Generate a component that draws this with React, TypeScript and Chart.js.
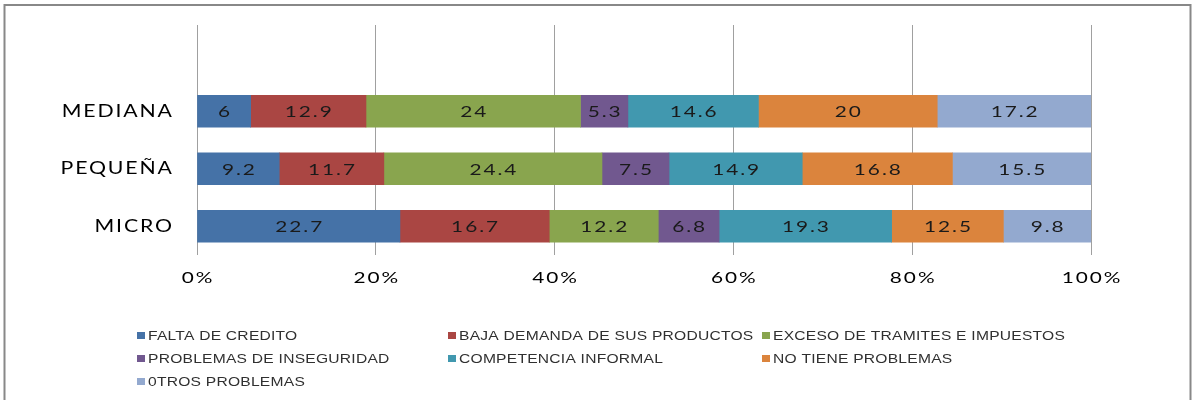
import React, { useEffect, useRef } from "react";
import { Chart, registerables } from "chart.js";

Chart.register(...registerables);

const categories = ["MEDIANA", "PEQUEÑA", "MICRO"];
const seriesNames = [
  "FALTA DE CREDITO",
  "BAJA DEMANDA DE SUS PRODUCTOS",
  "EXCESO DE TRAMITES E IMPUESTOS",
  "PROBLEMAS DE INSEGURIDAD",
  "COMPETENCIA INFORMAL",
  "NO TIENE PROBLEMAS",
  "0TROS PROBLEMAS",
];
const faltaCredito = [6, 9.2, 22.7];
const bajaDemanda = [12.9, 11.7, 16.7];
const excesoTramites = [24, 24.4, 12.2];
const inseguridad = [5.3, 7.5, 6.8];
const competencia = [14.6, 14.9, 19.3];
const noTiene = [20, 16.8, 12.5];
const otros = [17.2, 15.5, 9.8];
const xTicks = [0, 20, 40, 60, 80, 100];

const seriesValues = [faltaCredito, bajaDemanda, excesoTramites, inseguridad, competencia, noTiene, otros];
const colors = ["#4572A7", "#AA4643", "#89A54E", "#71588F", "#4198AF", "#DB843D", "#93A9CF"];

function drawStretched(
  ctx: CanvasRenderingContext2D,
  text: string,
  x: number,
  y: number,
  sx: number,
  ls: number,
  align: "left" | "center" | "right"
) {
  ctx.save();
  ctx.translate(x, y);
  ctx.scale(sx, 1);
  (ctx as any).letterSpacing = ls + "px";
  ctx.textAlign = align;
  ctx.textBaseline = "middle";
  let off = 0;
  if (align === "center") off = ls / 2;
  if (align === "right") off = ls;
  ctx.fillText(text, off, 0);
  ctx.restore();
}

const frameAndLabels = {
  id: "frameAndLabels",
  beforeDraw(chart: any) {
    const ctx = chart.ctx;
    ctx.save();
    ctx.fillStyle = "#ffffff";
    ctx.fillRect(0, 0, chart.width, chart.height);
    ctx.strokeStyle = "#888888";
    ctx.lineWidth = 2;
    ctx.strokeRect(4.5, 5, 1186, 420);
    ctx.restore();
  },
  afterDatasetsDraw(chart: any) {
    const ctx = chart.ctx;
    ctx.save();
    // data labels
    ctx.font = "16px Lato";
    ctx.fillStyle = "#1a1a1a";
    chart.data.datasets.forEach((ds: any, di: number) => {
      const meta = chart.getDatasetMeta(di);
      meta.data.forEach((el: any, i: number) => {
        const v = ds.data[i];
        if (v === null || v === undefined) return;
        const cx = (el.x + el.base) / 2;
        drawStretched(ctx, String(v), cx, el.y + 1, 1.3, 1.5, "center");
      });
    });
    // x tick labels
    const xs = chart.scales.x;
    ctx.font = "16px Lato";
    ctx.fillStyle = "#000000";
    xs.ticks.forEach((t: any) => {
      drawStretched(ctx, t.value + "%", xs.getPixelForValue(t.value), 278, 1.3, 1.5, "center");
    });
    // y tick labels
    const ys = chart.scales.y;
    ctx.font = "17px Lato";
    chart.data.labels.forEach((lab: string, i: number) => {
      if (!lab) return;
      drawStretched(ctx, lab, 172, ys.getPixelForValue(i), 1.25, 1.5, "right");
    });
    ctx.restore();
  },
  afterDraw(chart: any) {
    const ctx = chart.ctx;
    ctx.save();
    ctx.font = "13px 'Liberation Sans'";
    const colX = [137, 448, 762];
    const rowY = [335, 358, 381];
    chart.data.datasets.forEach((ds: any, i: number) => {
      const x = colX[i % 3];
      const y = rowY[Math.floor(i / 3)];
      ctx.fillStyle = ds.backgroundColor;
      ctx.fillRect(x, y - 3, 8, 7);
      ctx.fillStyle = "#303030";
      drawStretched(ctx, ds.label, x + 11, y + 1, 1.2, 0.2, "left");
    });
    ctx.restore();
  },
};

export default function App() {
  const ref = useRef<HTMLCanvasElement | null>(null);
  useEffect(() => {
    if (!ref.current) return;
    const chart = new Chart(ref.current, {
      type: "bar",
      data: {
        labels: ["", ...categories],
        datasets: seriesValues.map((vals, i) => ({
          label: seriesNames[i],
          data: [null, ...vals],
          backgroundColor: colors[i],
          borderWidth: 0,
          barThickness: 32,
        })),
      },
      options: {
        indexAxis: "y",
        animation: false,
        responsive: false,
        layout: { padding: { top: 25, right: 103, left: 0, bottom: 0 } },
        plugins: {
          legend: { display: false },
          tooltip: { enabled: false },
          title: { display: false },
        },
        scales: {
          x: {
            stacked: true,
            min: 0,
            max: 100,
            afterFit: (s: any) => {
              s.height = 145;
            },
            afterBuildTicks: (s: any) => {
              s.ticks = xTicks.map((v) => ({ value: v }));
            },
            grid: { color: "#a0a0a0", lineWidth: 1, drawTicks: false },
            border: { display: false },
            ticks: { display: false },
          },
          y: {
            stacked: true,
            afterFit: (s: any) => {
              s.width = 197;
            },
            grid: { display: false, drawTicks: false },
            border: { display: false },
            ticks: { display: false },
          },
        },
      },
      plugins: [frameAndLabels],
    });
    return () => chart.destroy();
  }, []);
  return (
    <div style={{ position: "absolute", left: 0, top: 0, width: 1194, height: 400 }}>
      <canvas ref={ref} width={1194} height={400} />
    </div>
  );
}
